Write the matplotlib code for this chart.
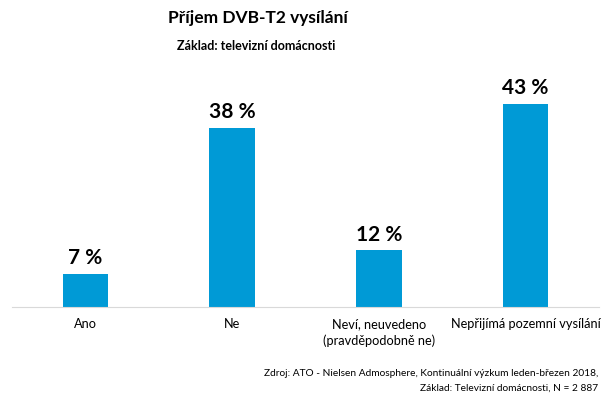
import matplotlib.pyplot as plt

plt.rcParams['font.family'] = ['Lato', 'DejaVu Sans']

kategorie = ['Ano', 'Ne', 'Neví, neuvedeno\n(pravděpodobně ne)', 'Nepřijímá pozemní vysílání']
hodnoty = [7, 38, 12, 43]
popisky = ['7 %', '38 %', '12 %', '43 %']

fig = plt.figure(figsize=(6.05, 3.96), dpi=100)
ax = fig.add_axes([12 / 605, 1 - 307 / 396, 587 / 605, 236 / 396])

x = range(len(kategorie))
ax.bar(x, hodnoty, width=0.31, color='#009ad6')
for xi, h, t in zip(x, hodnoty, popisky):
    ax.text(xi, h + 1.2, t, ha='center', va='bottom', fontsize=15, fontweight='bold')

ax.set_xlim(-0.5, len(kategorie) - 0.5)
ax.set_ylim(0, 50)
ax.set_xticks(list(x))
ax.set_xticklabels(kategorie, fontsize=9.2, linespacing=1.45)
ax.tick_params(axis='x', length=0, pad=8)
ax.set_yticks([])
for s in ['top', 'right', 'left']:
    ax.spines[s].set_visible(False)
ax.spines['bottom'].set_color('#d9d9d9')

# Titulky
fig.text(0.427, 1 - 18 / 396, 'Příjem DVB-T2 vysílání', ha='center', va='center',
         fontsize=12.5, fontweight='bold')
fig.text(0.423, 1 - 46 / 396, 'Základ: televizní domácnosti', ha='center', va='center',
         fontsize=9, fontweight='bold')

# Zdroj
fig.text(598 / 605, 1 - 374 / 396, 'Zdroj: ATO - Nielsen Admosphere, Kontinuální výzkum leden-březen 2018,',
         ha='right', va='center', fontsize=7.3)
fig.text(598 / 605, 1 - 388 / 396, 'Základ: Televizní domácnosti, N = 2 887',
         ha='right', va='center', fontsize=7.3)

fig.savefig('out.png', dpi=100)
